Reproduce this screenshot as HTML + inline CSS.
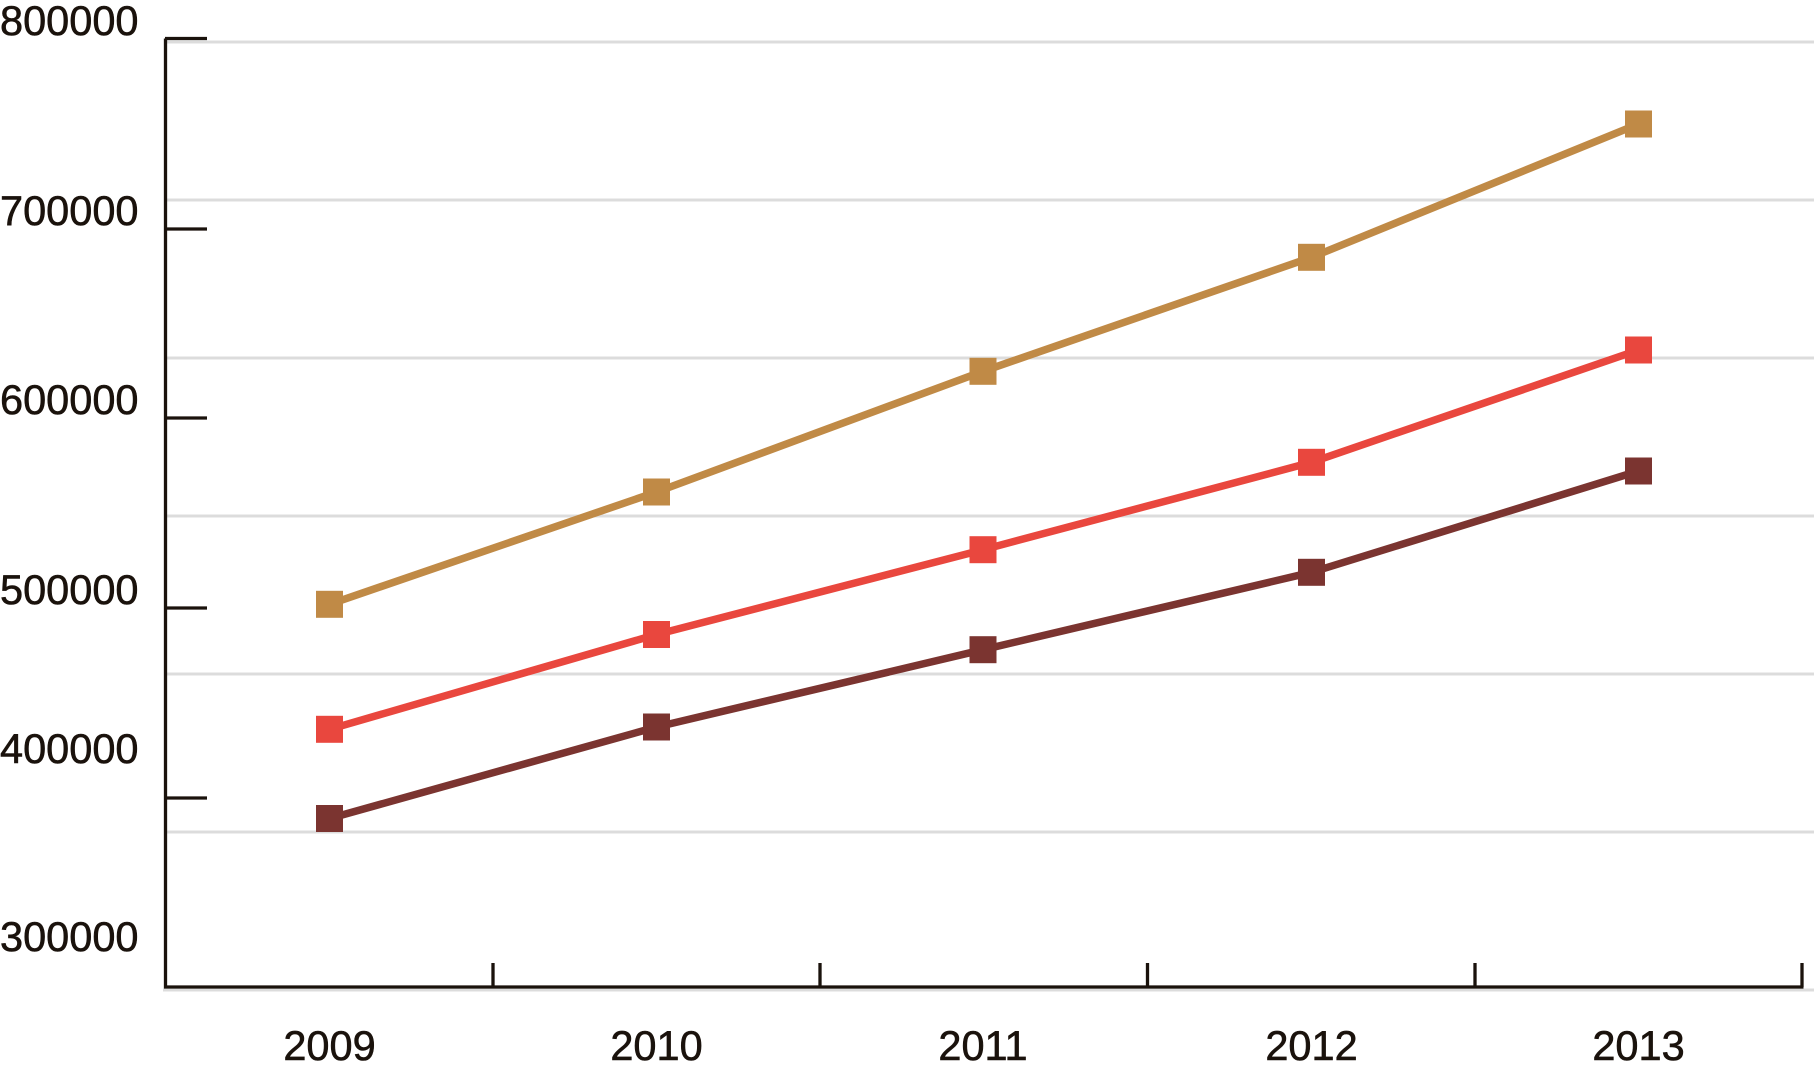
<!DOCTYPE html>
<html>
<head>
<meta charset="utf-8">
<style>
  html, body { margin: 0; padding: 0; background: #ffffff; }
  svg { display: block; }
  text { font-family: "Liberation Sans", Arial, Helvetica, sans-serif; font-size: 41.5px; fill: #1a120c; stroke: #1a120c; stroke-width: 0.6px; }
</style>
</head>
<body>
<svg width="1814" height="1066" viewBox="0 0 1814 1066" xmlns="http://www.w3.org/2000/svg">
  <rect width="1814" height="1066" fill="#ffffff"/>
  <!-- gridlines -->
  <g stroke="#dcdcdc" stroke-width="3">
    <line x1="165" y1="42" x2="1814" y2="42"/>
    <line x1="165" y1="200" x2="1814" y2="200"/>
    <line x1="165" y1="358" x2="1814" y2="358"/>
    <line x1="165" y1="516" x2="1814" y2="516"/>
    <line x1="165" y1="674" x2="1814" y2="674"/>
    <line x1="165" y1="832" x2="1814" y2="832"/>
    <line x1="163" y1="990" x2="1814" y2="990"/>
  </g>
  <!-- axes -->
  <g stroke="#1a120c" stroke-width="3.3" fill="none">
    <line x1="165.5" y1="38.5" x2="165.5" y2="988.5"/>
    <line x1="164" y1="987" x2="1803.5" y2="987"/>
    <!-- y ticks -->
    <line x1="165" y1="38.5" x2="207" y2="38.5"/>
    <line x1="165" y1="229" x2="207" y2="229"/>
    <line x1="165" y1="418" x2="207" y2="418"/>
    <line x1="165" y1="608" x2="207" y2="608"/>
    <line x1="165" y1="798" x2="207" y2="798"/>
    <!-- x ticks -->
    <line x1="493" y1="963" x2="493" y2="987"/>
    <line x1="820" y1="963" x2="820" y2="987"/>
    <line x1="1147.5" y1="963" x2="1147.5" y2="987"/>
    <line x1="1475" y1="963" x2="1475" y2="987"/>
    <line x1="1802" y1="963" x2="1802" y2="987"/>
  </g>
  <!-- y labels -->
  <text x="0" y="35">800000</text>
  <text x="0" y="225">700000</text>
  <text x="0" y="414">600000</text>
  <text x="0" y="604">500000</text>
  <text x="0" y="763">400000</text>
  <text x="0" y="951">300000</text>
  <!-- x labels -->
  <g text-anchor="middle">
    <text x="329.5" y="1060">2009</text>
    <text x="656.5" y="1060">2010</text>
    <text x="983" y="1060">2011</text>
    <text x="1311.5" y="1060">2012</text>
    <text x="1638.5" y="1060">2013</text>
  </g>
  <!-- series -->
  <g fill="none" stroke-width="7.5" stroke-linejoin="round">
    <polyline stroke="#7b3430" points="329.5,818.5 656.5,727 983,649.7 1311.5,572.3 1638.5,471"/>
    <polyline stroke="#e9473e" points="329.5,729.3 656.5,634.5 983,549.7 1311.5,462.3 1638.5,350"/>
    <polyline stroke="#c08a46" points="329.5,604.3 656.5,492 983,371.3 1311.5,257.3 1638.5,124"/>
  </g>
  <g fill="#7b3430">
    <rect x="316" y="805" width="27" height="27"/>
    <rect x="643" y="713.5" width="27" height="27"/>
    <rect x="969.5" y="636.2" width="27" height="27"/>
    <rect x="1298" y="558.8" width="27" height="27"/>
    <rect x="1625" y="457.5" width="27" height="27"/>
  </g>
  <g fill="#e9473e">
    <rect x="316" y="715.8" width="27" height="27"/>
    <rect x="643" y="621" width="27" height="27"/>
    <rect x="969.5" y="536.2" width="27" height="27"/>
    <rect x="1298" y="448.8" width="27" height="27"/>
    <rect x="1625" y="336.5" width="27" height="27"/>
  </g>
  <g fill="#c08a46">
    <rect x="316" y="590.8" width="27" height="27"/>
    <rect x="643" y="478.5" width="27" height="27"/>
    <rect x="969.5" y="357.8" width="27" height="27"/>
    <rect x="1298" y="243.8" width="27" height="27"/>
    <rect x="1625" y="110.5" width="27" height="27"/>
  </g>
</svg>
</body>
</html>
